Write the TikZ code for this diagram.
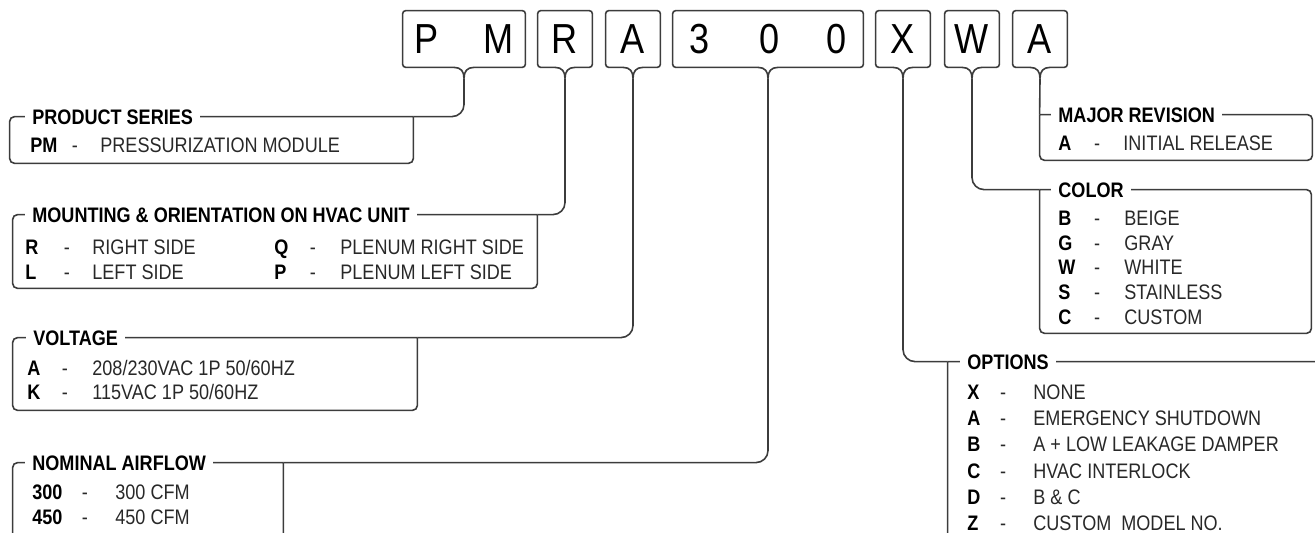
\documentclass[tikz,border=0pt]{standalone}
\usepackage{fontspec}
\setmainfont{Liberation Sans}[FakeStretch=0.86]
\usepackage{tikz}
\usetikzlibrary{positioning,fit,calc}
\definecolor{linegray}{RGB}{60,60,60}
\definecolor{textgray}{RGB}{40,40,40}
\tikzstyle{tagbox} = [inner sep=0pt, minimum height=28pt, font=\fontsize{21}{24}\selectfont, text=black]
\tikzstyle{tagline} = [draw=linegray, line width=0.8pt, rounded corners=1.6pt]
\tikzstyle{frame} = [draw=linegray, line width=0.8pt, rounded corners=2.5pt]
\tikzstyle{link} = [draw=linegray, line width=0.8pt, rounded corners=6pt]
\tikzstyle{grp} = [inner sep=0pt]
\tikzstyle{txt} = [inner sep=0pt, text height=7.5pt, text depth=0pt, font=\fontsize{10.5}{12}\selectfont]
\tikzstyle{grouphead} = [txt, anchor=west, fill=white, inner xsep=3.5pt, font=\fontsize{10.5}{12}\selectfont\bfseries]
\tikzstyle{keybold} = [txt, anchor=west, font=\fontsize{10.5}{12}\selectfont\bfseries]
\tikzstyle{hyph} = [txt, text=textgray]
\tikzstyle{itemtext} = [txt, anchor=west, text=textgray]
% outline of a code box with its small tail
\newcommand\tagoutline[1]{%
  \draw[tagline] ($(#1.south)+(-10,0)$) -- (#1.south west) -- (#1.north west) -- (#1.north east) -- (#1.south east) -- ($(#1.south)+(10,0)$);
  \coordinate (#1-tip) at ($(#1.south)+(0,11)$);
  \draw[tagline] ($(#1.south)+(-10,0)$) .. controls +(7,0) and +(0,-7) .. (#1-tip);
  \draw[tagline] ($(#1.south)+(10,0)$) .. controls +(-7,0) and +(0,-7) .. (#1-tip);
}

\begin{document}
\begin{tikzpicture}[x=0.5pt, y=-0.5pt]
\path[use as bounding box] (0,0) rectangle (1315,533);
\clip (0,0) rectangle (1315,533);

% Model number boxes
\node[tagbox, minimum width=61pt] (series) at (464,39) {P\hspace{22pt}M};
\node[tagbox, minimum width=27pt] (mounting) at (565,39) {R};
\node[tagbox, minimum width=27pt] (voltage) at (633,39) {A};
\node[tagbox, minimum width=95pt] (airflow) at (768,39) {3\hspace{25pt}0\hspace{23.5pt}0};
\node[tagbox, minimum width=27pt] (options) at (903,39) {X};
\node[tagbox, minimum width=27pt] (color) at (972,39) {W};
\node[tagbox, minimum width=27pt] (revision) at (1040,39) {A};
\foreach \n in {series,mounting,voltage,airflow,options,color,revision}
  \tagoutline{\n};

% Product series
\node[grp, fit={(10,117) (413,163)}] (seriesbox) {};
\draw[frame] (seriesbox.north east) |- (seriesbox.south west) |- (seriesbox.north east);
\draw[link] (series-tip) |- (seriesbox.north east);
\node[grouphead] (serieshead) at (25,117) {PRODUCT SERIES};
\node[keybold] (serieskey) at (30,145) {PM};
\node[hyph] (seriesdash) at (75,145) {-};
\node[itemtext] (seriestext) at (100,145) {PRESSURIZATION MODULE};

% Mounting & orientation
\node[grp, fit={(13,215) (537,288)}] (mountingbox) {};
\draw[frame] (mountingbox.north east) |- (mountingbox.south west) |- (mountingbox.north east);
\draw[link] (mounting-tip) |- (mountingbox.north east);
\node[grouphead] (mountinghead) at (25,215) {MOUNTING \& ORIENTATION ON HVAC UNIT};
\foreach \k/\t [count=\i] in {R/RIGHT SIDE, L/LEFT SIDE} {
  \node[keybold] (mountingkey\i) at (25,{247+25*(\i-1)}) {\k};
  \node[hyph] (mountingdash\i) at (67,{247+25*(\i-1)}) {-};
  \node[itemtext] (mountingtext\i) at (92,{247+25*(\i-1)}) {\t};
}
\foreach \k/\t [count=\i] in {Q/PLENUM RIGHT SIDE, P/PLENUM LEFT SIDE} {
  \node[keybold] (plenumkey\i) at (274,{247+25*(\i-1)}) {\k};
  \node[hyph] (plenumdash\i) at (313,{247+25*(\i-1)}) {-};
  \node[itemtext] (plenumtext\i) at (340,{247+25*(\i-1)}) {\t};
}

% Voltage
\node[grp, fit={(13,338) (417,410)}] (voltagebox) {};
\draw[frame] (voltagebox.north east) |- (voltagebox.south west) |- (voltagebox.north east);
\draw[link] (voltage-tip) |- (voltagebox.north east);
\node[grouphead] (voltagehead) at (26,338) {VOLTAGE};
\foreach \k/\t [count=\i] in {A/{208/230VAC 1P 50/60HZ}, K/{115VAC 1P 50/60HZ}} {
  \node[keybold] (voltagekey\i) at (27,{368+24*(\i-1)}) {\k};
  \node[hyph] (voltagedash\i) at (65,{368+24*(\i-1)}) {-};
  \node[itemtext] (voltagetext\i) at (92,{368+24*(\i-1)}) {\t};
}

% Nominal airflow
\node[grp, fit={(13,463) (283,600)}] (airflowbox) {};
\draw[frame] (airflowbox.north east) |- (airflowbox.south west) |- (airflowbox.north east);
\draw[link] (airflow-tip) |- (airflowbox.north east);
\node[grouphead] (airflowhead) at (25,463) {NOMINAL AIRFLOW};
\foreach \k/\t [count=\i] in {300/300 CFM, 450/450 CFM} {
  \node[keybold] (airflowkey\i) at (32,{492+25*(\i-1)}) {\k};
  \node[hyph] (airflowdash\i) at (85,{492+25*(\i-1)}) {-};
  \node[itemtext] (airflowtext\i) at (115,{492+25*(\i-1)}) {\t};
}

% Major revision
\node[grp, fit={(1040,115) (1312,160)}] (revisionbox) {};
\draw[link] (revision-tip) -- (revisionbox.north west);
\draw[frame] (revisionbox.north west) |- (revisionbox.south east) |- (revisionbox.north west);
\node[grouphead] (revisionhead) at (1051,115) {MAJOR REVISION};
\node[keybold] (revisionkey) at (1058,143) {A};
\node[hyph] (revisiondash) at (1097,143) {-};
\node[itemtext] (revisiontext) at (1123,143) {INITIAL RELEASE};

% Color
\node[grp, fit={(1040,190) (1311,333)}] (colorbox) {};
\draw[link] (color-tip) |- (colorbox.north west);
\draw[frame] (colorbox.north west) |- (colorbox.south east) |- (colorbox.north west);
\node[grouphead] (colorhead) at (1051,190) {COLOR};
\foreach \k/\t [count=\i] in {B/BEIGE, G/GRAY, W/WHITE, S/STAINLESS, C/CUSTOM} {
  \node[keybold] (colorkey\i) at (1058,{218+24.75*(\i-1)}) {\k};
  \node[hyph] (colordash\i) at (1097,{218+24.75*(\i-1)}) {-};
  \node[itemtext] (colortext\i) at (1124,{218+24.75*(\i-1)}) {\t};
}

% Options
\node[grp, fit={(948,362) (1400,600)}] (optionsbox) {};
\draw[link] (options-tip) |- (optionsbox.north west);
\draw[frame] (optionsbox.north west) |- (optionsbox.south east) |- (optionsbox.north west);
\node[grouphead] (optionshead) at (960,362) {OPTIONS};
\foreach \k/\t [count=\i] in {X/NONE, A/EMERGENCY SHUTDOWN, B/A + LOW LEAKAGE DAMPER, C/HVAC INTERLOCK, D/B \& C, Z/CUSTOM\ \ MODEL NO.} {
  \node[keybold] (optionskey\i) at (967,{392+26.2*(\i-1)}) {\k};
  \node[hyph] (optionsdash\i) at (1003,{392+26.2*(\i-1)}) {-};
  \node[itemtext] (optionstext\i) at (1033,{392+26.2*(\i-1)}) {\t};
}

\end{tikzpicture}
\end{document}
